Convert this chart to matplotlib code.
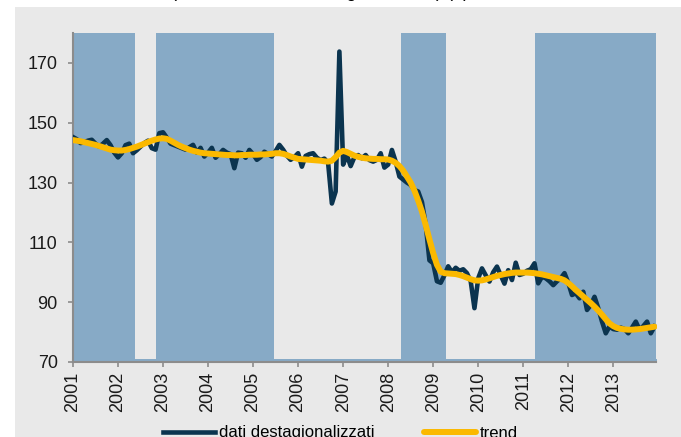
import numpy as np
import matplotlib
matplotlib.use('Agg')
import matplotlib.pyplot as plt
from matplotlib.patches import Rectangle

plt.rcParams['font.family'] = ['Liberation Sans', 'DejaVu Sans']

# dati mensili gen 2001 - dic 2013
anni = list(range(2001, 2014))
mesi = 2001 + np.arange(156) / 12

dati = [
    145.2, 144.5, 143.2, 143.5, 144.0, 144.3, 143.0, 142.0, 143.0, 144.2, 142.5, 140.0,  # 2001
    138.4, 139.8, 142.5, 143.0, 139.8, 140.8, 142.0, 143.2, 144.0, 141.5, 141.0, 146.5,  # 2002
    146.8, 145.0, 143.0, 142.5, 142.0, 141.5, 141.0, 141.8, 142.6, 140.0, 141.6, 138.7,  # 2003
    140.0, 141.6, 138.3, 139.5, 140.9, 140.0, 139.5, 134.8, 140.0, 139.8, 138.3, 140.9,  # 2004
    139.5, 137.6, 138.5, 140.3, 139.5, 138.7, 140.5, 142.6, 141.0, 139.0, 137.6, 138.5,  # 2005
    139.8, 135.3, 138.9, 139.5, 139.8, 138.3, 137.5, 138.0, 136.5, 123.0, 127.0, 173.8,  # 2006
    136.0, 139.2, 135.5, 138.5, 139.2, 138.1, 139.2, 137.5, 137.0, 137.6, 139.8, 135.0,  # 2007
    136.0, 140.9, 137.0, 132.0, 131.0, 130.0, 129.2, 127.5, 127.0, 123.5, 116.0, 104.0,  # 2008
    103.0, 97.0, 96.5, 99.0, 102.0, 100.0, 101.5, 100.5, 101.0, 99.7, 97.0, 88.0,  # 2009
    98.0, 101.3, 99.0, 96.9, 100.0, 101.9, 99.0, 96.2, 100.7, 97.4, 103.2, 99.1,  # 2010
    99.5, 100.5, 101.0, 103.0, 96.3, 98.5, 98.0, 97.0, 95.7, 97.0, 98.0, 99.7,  # 2011
    96.5, 92.4, 93.0, 91.3, 93.5, 87.4, 89.0, 91.8, 88.0, 83.5, 79.6, 81.9,  # 2012
    81.0, 80.8, 81.5, 81.0, 79.6, 81.5, 83.5, 80.8, 82.0, 83.5, 79.6, 81.9,  # 2013
]

trend = [
    144.2, 144.0, 143.8, 143.5, 143.2, 142.9, 142.6, 142.2, 141.8, 141.4, 141.0, 140.8,
    140.7, 140.7, 140.9, 141.2, 141.6, 142.0, 142.5, 143.0, 143.5, 144.0, 144.4, 144.7,
    144.8, 144.6, 144.0, 143.3, 142.6, 142.0, 141.5, 141.0, 140.6, 140.3, 140.0, 139.8,
    139.7, 139.6, 139.5, 139.4, 139.3, 139.2, 139.2, 139.1, 139.1, 139.2, 139.2, 139.3,
    139.3, 139.3, 139.4, 139.4, 139.5, 139.6, 139.8, 139.8, 139.6, 139.2, 138.7, 138.3,
    137.9, 137.8, 137.7, 137.6, 137.5, 137.4, 137.3, 137.1, 137.0, 137.3, 138.5, 140.0,
    140.6, 140.2, 139.6, 139.0, 138.6, 138.3, 138.1, 138.0, 137.9, 137.9, 137.8, 137.8,
    137.7, 137.3, 136.6, 135.5, 134.0, 132.0, 130.0, 127.3, 124.0, 120.3, 115.8, 111.0,
    106.4, 102.5, 100.2, 99.7, 99.6, 99.5, 99.4, 99.1, 98.7, 98.2, 97.7, 97.3,
    97.2, 97.3, 97.6, 98.0, 98.4, 98.8, 99.1, 99.4, 99.6, 99.8, 99.9, 99.9,
    99.9, 99.9, 99.8, 99.7, 99.5, 99.3, 99.0, 98.7, 98.4, 98.1, 97.8, 97.3,
    96.4, 95.3, 94.1, 93.0, 91.9, 90.8, 89.7, 88.5, 87.2, 85.8, 84.3, 82.9,
    82.0, 81.4, 81.1, 80.9, 80.8, 80.8, 80.9, 81.0, 81.2, 81.4, 81.6, 81.8,
]

# fasi di recessione (inizio, fine) in anni
recessioni = [(2001.0, 2002.383), (2002.85, 2005.458), (2008.275, 2009.283), (2011.267, 2013.96)]

c_band = '#87aac6'
c_dati = '#0b344f'
c_trend = '#fbb900'
c_grigio = '#8c8c8c'

fig = plt.figure(figsize=(6.81, 4.37), dpi=100)
sfondo = Rectangle((15 / 681, 0), 1, (437 - 7) / 437, transform=fig.transFigure,
                   facecolor='#e9e9e9', edgecolor='none', zorder=-10)
fig.add_artist(sfondo)

ax = fig.add_axes([73 / 681, (437 - 362) / 437, (656.5 - 73) / 681, (362 - 33) / 437])
ax.set_facecolor('none')

for a, b in recessioni:
    ax.axvspan(a, b, color=c_band, lw=0, zorder=1)
ax.axhspan(70, 71.1, color=c_band, lw=0, zorder=1)

ax.plot(mesi, dati, color=c_dati, lw=3.3, solid_joinstyle='round', zorder=3,
        label='dati destagionalizzati')
ax.plot(mesi, trend, color=c_trend, lw=4.3, solid_capstyle='round', zorder=4, label='trend')

ax.set_xlim(2001, 2013.96)
ax.set_ylim(70, 180)
ax.set_yticks([70, 90, 110, 130, 150, 170])
ax.set_xticks(anni)
ax.set_xticklabels([str(a) for a in anni], rotation=90, ha='center', va='top')

for s in ['top', 'right']:
    ax.spines[s].set_visible(False)
for s in ['left', 'bottom']:
    ax.spines[s].set_color(c_grigio)
    ax.spines[s].set_linewidth(1.5)
ax.tick_params(axis='both', colors=c_grigio, labelcolor='#1a1a1a', labelsize=13,
               length=3.5, width=1.2, direction='out')
ax.tick_params(axis='y', pad=7.5)
ax.tick_params(axis='x', pad=3.5)

fig.text(171 / 681, 1 + 3 / 437, '(2010=100, dati destagionalizzati) (a)', fontsize=13,
         ha='left', va='baseline')

fig.legend(loc='center left', bbox_to_anchor=(163 / 681, 4 / 437), ncol=2, frameon=False,
           fontsize=12, handlelength=3.1, handletextpad=0.25, columnspacing=3.0,
           borderpad=0, borderaxespad=0)

fig.savefig('out.png', dpi=100)
